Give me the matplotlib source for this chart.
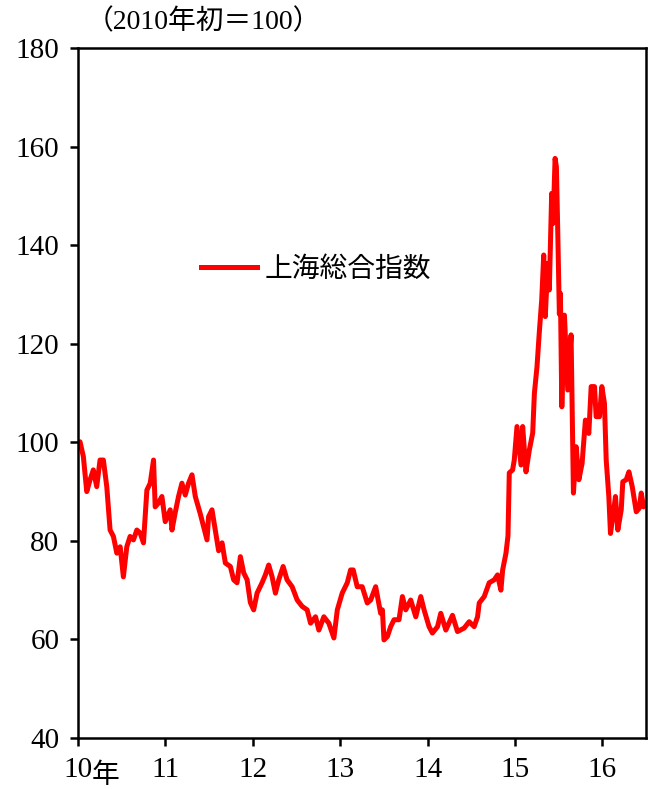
import numpy as np
import matplotlib
matplotlib.use("Agg")
import matplotlib.pyplot as plt

# DATA #################################################################################################################
# years since 2010 (decimal) and Shanghai composite index (start of 2010 = 100)
t_years = [0.000, 0.023, 0.061, 0.100, 0.138, 0.175, 0.214, 0.252, 0.290, 0.329, 0.347, 0.367, 0.405, 0.444,
           0.482, 0.519, 0.558, 0.596, 0.634, 0.673, 0.711, 0.749, 0.788, 0.826, 0.864, 0.883, 0.921, 0.960,
           0.998, 1.055, 1.075, 1.112, 1.150, 1.189, 1.227, 1.265, 1.304, 1.342, 1.399, 1.437, 1.476, 1.494,
           1.533, 1.571, 1.609, 1.648, 1.686, 1.743, 1.781, 1.820, 1.858, 1.896, 1.935, 1.972, 2.010, 2.049,
           2.106, 2.144, 2.182, 2.221, 2.259, 2.297, 2.347, 2.392, 2.450, 2.508, 2.565, 2.622, 2.661, 2.718,
           2.756, 2.813, 2.870, 2.928, 2.967, 3.023, 3.081, 3.119, 3.149, 3.195, 3.252, 3.310, 3.349, 3.406,
           3.463, 3.483, 3.501, 3.540, 3.578, 3.616, 3.673, 3.712, 3.750, 3.807, 3.865, 3.922, 3.960, 4.017,
           4.055, 4.114, 4.151, 4.209, 4.285, 4.342, 4.418, 4.476, 4.533, 4.572, 4.591, 4.648, 4.705, 4.763,
           4.801, 4.839, 4.859, 4.897, 4.920, 4.935, 4.973, 4.992, 5.023, 5.069, 5.088, 5.126, 5.164, 5.203,
           5.222, 5.252, 5.278, 5.306, 5.329, 5.347, 5.375, 5.393, 5.420, 5.436, 5.459, 5.474, 5.490, 5.508,
           5.520, 5.536, 5.566, 5.604, 5.642, 5.669, 5.700, 5.731, 5.768, 5.806, 5.845, 5.872, 5.910, 5.929,
           5.967, 5.994, 6.024, 6.044, 6.074, 6.093, 6.120, 6.150, 6.177, 6.216, 6.234, 6.273, 6.304, 6.342,
           6.388, 6.421, 6.445, 6.471, 6.500]
index_vals = [100.0, 100.1, 97.1, 90.0, 92.4, 94.4, 91.0, 96.4, 96.4, 91.0, 86.9, 82.2, 80.9, 77.5,
              78.8, 72.7, 78.8, 80.9, 80.2, 82.2, 81.6, 79.6, 90.3, 91.7, 96.4, 86.9, 87.7, 89.0,
              83.9, 86.3, 82.2, 85.7, 89.0, 91.7, 89.3, 91.7, 93.4, 89.0, 85.5, 82.9, 80.2, 84.9,
              86.3, 82.2, 78.0, 79.6, 75.5, 74.8, 72.1, 71.5, 76.8, 73.5, 72.1, 67.5, 66.0, 69.4,
              71.5, 73.1, 75.1, 72.7, 69.4, 72.1, 74.8, 72.1, 70.7, 68.0, 66.7, 66.0, 63.3, 64.6,
              61.9, 64.6, 63.3, 60.3, 66.0, 69.4, 71.5, 74.1, 74.1, 70.7, 70.7, 67.4, 68.0, 70.7,
              65.3, 66.0, 59.9, 60.6, 62.6, 64.0, 64.0, 68.7, 66.0, 68.0, 64.6, 68.7, 66.0, 62.6,
              61.3, 62.6, 65.3, 61.9, 64.9, 61.6, 62.3, 63.6, 62.6, 64.6, 67.4, 68.7, 71.5, 72.1,
              73.1, 70.0, 74.1, 77.5, 81.0, 93.8, 94.4, 96.4, 103.2, 95.4, 103.2, 94.0, 98.4, 101.9,
              109.9, 115.3, 122.2, 128.9, 138.0, 125.5, 136.3, 130.9, 150.5, 144.4, 157.6, 155.9, 142.4, 126.0,
              130.2, 107.2, 125.8, 110.6, 121.8, 89.7, 99.1, 92.4, 95.7, 104.5, 101.8, 111.3, 111.3, 105.2,
              105.2, 111.3, 107.9, 96.4, 89.0, 81.5, 84.9, 89.0, 82.2, 86.3, 92.0, 92.4, 94.0, 91.0,
              85.9, 86.6, 89.7, 86.9, 87.5]
year_ticks = [2010, 2011, 2012, 2013, 2014, 2015, 2016]
year_labels = ["10", "11", "12", "13", "14", "15", "16"]
y_ticks = [40, 60, 80, 100, 120, 140, 160, 180]
series_label = "上海総合指数"
unit_text = "（2010年初＝100）"

# FIGURE ###############################################################################################################
plt.rcParams['font.family'] = ['Liberation Serif', 'Noto Sans CJK JP']

fig = plt.figure(figsize=(6.48, 7.89), dpi=100)
ax = fig.add_axes([0.1204, 0.0646, 0.8766, 0.8746])

x = 2010 + np.array(t_years)
ax.plot(x, index_vals, color='#ff0000', linewidth=3.6, solid_joinstyle='round', label=series_label)

ax.set_xlim(2010, 2016.5)
ax.set_ylim(40, 180)
ax.set_xticks(year_ticks)
ax.set_xticklabels(year_labels)
ax.set_yticks(y_ticks)
for s in ax.spines.values():
    s.set_linewidth(1.8)
ax.tick_params(direction='out', length=5.5, width=1.8, labelsize=21, pad=8)

# "年" after the first year label
ax.annotate("年", xy=(2010.16, 0), xycoords=('data', 'axes fraction'), xytext=(0, -16),
            textcoords='offset points', fontsize=20, ha='left', va='top', family=['Noto Sans CJK JP'])

fig.text(86 / 648, 1 - 22 / 789, unit_text, fontsize=20, ha='left', va='center')

ax.legend(loc='center left', bbox_to_anchor=(0.2165, 0.680), frameon=False,
          handlelength=2.0, handletextpad=0.3, borderpad=0, borderaxespad=0,
          prop={'family': ['Noto Sans CJK JP'], 'size': 20})

fig.savefig("out.png", dpi=100)
